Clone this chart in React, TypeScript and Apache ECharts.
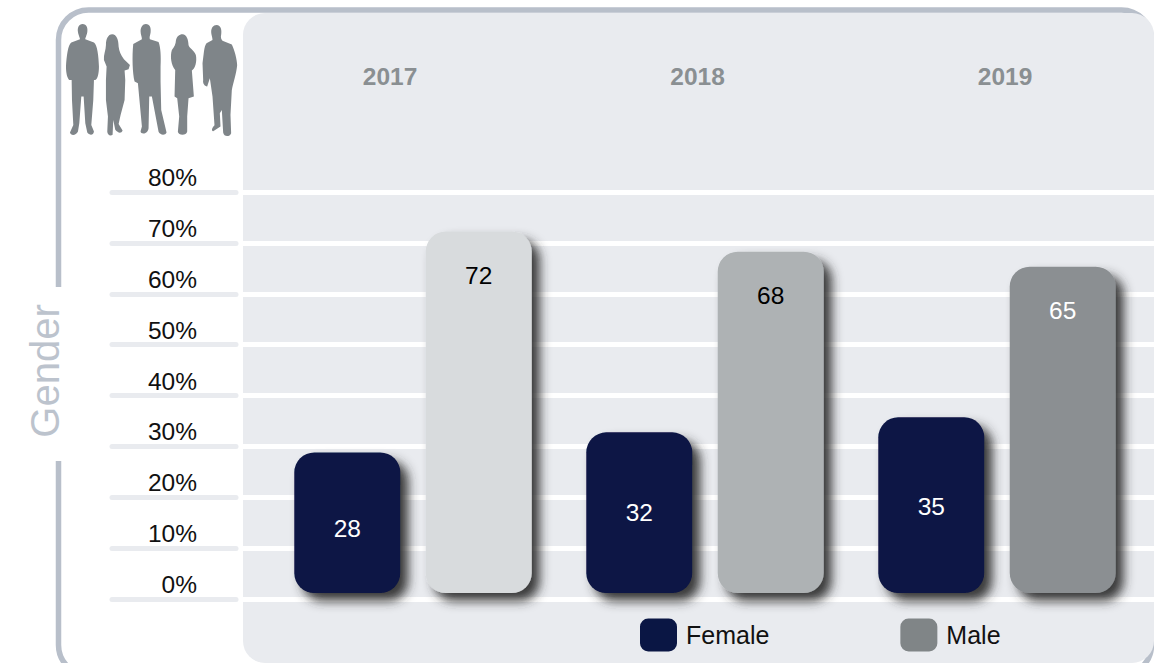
import React, { useEffect, useRef } from "react";
import * as echarts from "echarts";

const years = ["2017", "2018", "2019"];
const femaleValues = [28, 32, 35];
const maleValues = [72, 68, 65];
const maleColors = ["#d8dbdd", "#aeb2b4", "#8b8f92"];
const maleLabelColors = ["#000000", "#000000", "#ffffff"];
const femaleLabelOffsets = [6, 0, 1];
const NAVY = "#0a1644";
const PANEL = "#e9ebef";
const FONT = '"Liberation Sans", Arial, sans-serif';

const people: Record<string, string> = {
  man1: "M98 72 C110 72 114 84 112 96 C110 108 106 112 106 118 L132 128 C142 134 146 170 147 200 C147 222 142 240 136 240 L132 240 L130 300 L124 375 L132 395 C130 408 118 406 112 398 L106 370 L101 290 L94 290 L88 370 L84 395 C78 408 62 408 60 398 L70 375 L66 300 L65 240 L58 240 C52 236 48 220 48 200 C50 170 54 134 64 128 L90 118 C90 112 86 108 84 96 C82 84 86 72 98 72 Z",
  woman1: "M187 103 C200 103 206 120 206 140 C208 155 212 165 222 178 L240 195 L236 208 L224 212 L226 240 L224 300 L212 345 L206 372 L218 392 C214 402 204 400 196 390 L190 360 L188 405 C180 410 172 404 172 395 L174 350 L168 300 L168 240 L170 200 L162 180 C160 165 168 150 168 135 C168 118 174 103 187 103 Z",
  man2: "M288 72 C300 72 304 84 302 98 C300 108 298 112 300 118 L326 126 C332 140 334 170 332 200 L332 245 L334 330 L350 398 C346 408 330 406 326 396 L306 290 L298 290 L296 385 C294 404 272 404 272 394 L276 380 L264 250 L254 245 C248 220 246 170 250 132 L276 118 C276 110 272 104 272 94 C272 82 278 72 288 72 Z",
  woman2: "M398 103 C410 103 416 120 416 135 C418 145 432 150 438 165 C442 185 436 205 426 212 L432 290 L416 295 L412 350 L412 395 C410 408 386 408 384 396 L388 350 L382 295 L374 290 L376 210 C364 195 360 170 366 150 C374 140 378 130 378 122 C380 110 388 103 398 103 Z",
  man3: "M500 75 C514 76 516 90 514 104 C512 112 514 118 518 122 L546 134 C554 150 562 180 562 196 C560 220 550 250 546 270 L542 345 L544 400 C540 412 522 412 520 398 L516 330 L510 340 L512 380 L490 394 C484 392 486 384 494 376 L488 290 L480 235 L472 260 C464 258 458 250 460 240 L458 190 C462 165 462 140 470 130 L488 120 C488 112 484 104 484 96 C484 84 490 75 500 75 Z",
};
Object.entries(people).forEach(([k, d]) => {
  echarts.graphic.registerShape(k, echarts.graphic.extendPath(d, {}) as any);
});

const hidden = { show: false };

export default function App() {
  const ref = useRef<HTMLDivElement>(null);
  useEffect(() => {
    const chart = echarts.init(ref.current!, null, { renderer: "svg" });
    const barStyle = {
      borderRadius: 20,
      shadowColor: "rgba(45,45,45,0.95)",
      shadowBlur: 11,
      shadowOffsetX: 8,
      shadowOffsetY: 8,
    };
    chart.setOption({
      animation: false,
      backgroundColor: "#ffffff",
      textStyle: { fontFamily: FONT },
      graphic: [
        { type: "rect", z: -5, shape: { x: 58.5, y: 10, width: 1093, height: 665, r: 30 }, style: { fill: "#ffffff", stroke: "#b8bfca", lineWidth: 5.5 } },
        { type: "rect", z: -4, shape: { x: 50, y: 287, width: 16, height: 174 }, style: { fill: "#ffffff" } },
        { type: "rect", z: -3, shape: { x: 243, y: 13, width: 911, height: 650, r: 22 }, style: { fill: PANEL } },
        { type: "text", z: 5, x: 45, y: 371, rotation: Math.PI / 2, style: { text: "Gender", fill: "#bcc3cd", font: `40px ${FONT}`, align: "center", verticalAlign: "middle" } },
        ...Object.keys(people).map((k) => ({ type: k, z: 5, x: 50, y: 0, scaleX: 1 / 3, scaleY: 1 / 3, style: { fill: "#7f8589" } })),
      ],
      grid: [
        { left: 243, right: 0, top: 192, height: 407 },
        { left: 267, width: 876, top: 191.4, height: 401.6 },
        { left: 112, width: 124, top: 192, height: 407 },
        { left: 390, width: 615, top: 192, height: 407 },
      ],
      xAxis: [
        { gridIndex: 0, type: "category", data: years, ...hidden },
        { gridIndex: 1, type: "category", data: years, ...hidden },
        { gridIndex: 2, type: "category", data: years, ...hidden },
        {
          gridIndex: 3, type: "category", data: years, position: "top", boundaryGap: false,
          axisLine: hidden, axisTick: hidden,
          axisLabel: { margin: 116, color: "#8a8f92", fontWeight: "bold", fontSize: 24.5, fontFamily: FONT, verticalAlign: "middle" },
        },
      ],
      yAxis: [
        {
          gridIndex: 0, type: "value", min: 0, max: 80, interval: 10,
          axisLine: hidden, axisTick: hidden, axisLabel: hidden,
          splitLine: { lineStyle: { color: "#ffffff", width: 5 } },
        },
        { gridIndex: 1, type: "value", min: 0, max: 80, interval: 10, ...hidden },
        {
          gridIndex: 2, type: "value", min: 0, max: 80, interval: 10,
          axisLine: hidden, axisTick: hidden,
          axisLabel: { margin: -85, align: "right", verticalAlign: "bottom", padding: [0, 0, 2, 0], formatter: "{value}%", color: "#111111", fontSize: 24.5, fontFamily: FONT },
          splitLine: { lineStyle: { color: PANEL, width: 5, cap: "round" } },
        },
        { gridIndex: 3, type: "value", min: 0, max: 80, ...hidden },
      ],
      legend: {
        left: 640, top: 618.5, padding: 0, itemWidth: 37, itemHeight: 33, itemGap: 131, icon: "roundRect",
        textStyle: { fontSize: 25, color: "#111111", fontFamily: FONT, padding: [0, 0, 0, 4] },
        data: ["Female", "Male"],
      },
      series: [
        {
          name: "Female", type: "bar", xAxisIndex: 1, yAxisIndex: 1, barWidth: 106, barGap: "24%",
          itemStyle: { ...barStyle, color: NAVY },
          data: femaleValues.map((v, i) => ({
            value: v,
            label: { show: true, position: "inside", offset: [0, femaleLabelOffsets[i]], color: "#ffffff", fontSize: 24.5, fontFamily: FONT },
          })),
        },
        {
          name: "Male", type: "bar", xAxisIndex: 1, yAxisIndex: 1, barWidth: 106,
          itemStyle: { ...barStyle, color: "#808587" },
          data: maleValues.map((v, i) => ({
            value: v,
            itemStyle: { color: maleColors[i] },
            label: { show: true, position: "insideTop", distance: 31, color: maleLabelColors[i], fontSize: 24.5, fontFamily: FONT },
          })),
        },
      ],
    });
    return () => chart.dispose();
  }, []);
  return <div ref={ref} style={{ position: "fixed", left: 0, top: 0, width: 1154, height: 663 }} />;
}
